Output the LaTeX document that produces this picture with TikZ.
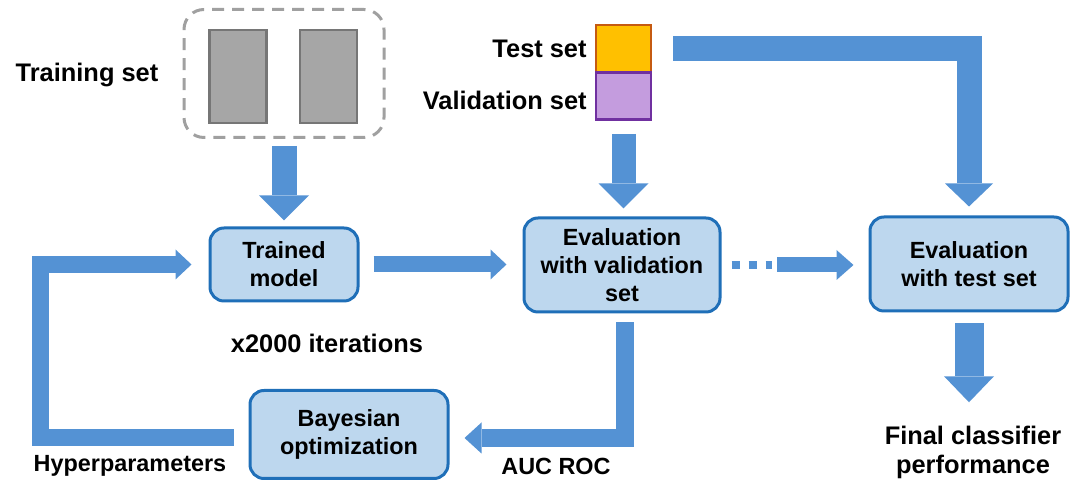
\documentclass[tikz,border=0pt]{standalone}
\usepackage{fontspec}
\setmainfont{Liberation Sans}
\usetikzlibrary{arrows.meta}

\definecolor{boxfill}{RGB}{189,215,238}
\definecolor{boxline}{RGB}{31,111,184}
\definecolor{arrowblue}{RGB}{84,146,212}
\definecolor{setgray}{RGB}{166,166,166}
\definecolor{setline}{RGB}{118,118,118}
\definecolor{dashgray}{RGB}{160,160,160}
\definecolor{testfill}{RGB}{255,192,0}
\definecolor{testline}{RGB}{197,90,17}
\definecolor{valfill}{RGB}{196,156,222}
\definecolor{valline}{RGB}{112,48,160}

\begin{document}
\begin{tikzpicture}[x=0.5pt, y=-0.5pt,
    box/.style={draw=boxline, fill=boxfill, line width=1.5pt, rounded corners=7pt, align=center, inner sep=0pt, font=\bfseries\fontsize{11.7}{14}\selectfont},
    lbl/.style={align=center, inner sep=0pt, font=\bfseries\fontsize{12.7}{14.5}\selectfont},
    note/.style={align=center, inner sep=0pt, font=\bfseries\fontsize{11.7}{14}\selectfont},
    datablock/.style={draw=setline, fill=setgray, line width=1.4pt, minimum width=28.5pt, minimum height=46.5pt, inner sep=0pt},
    setsq/.style={line width=1.3pt, minimum width=27.5pt, minimum height=23.5pt, inner sep=0pt},
    barrow/.style n args={3}{draw=arrowblue, line width=#1, line join=miter, -{Triangle[width=#2, length=#3, line width=0pt]}},
    dotline/.style={draw=arrowblue, line width=4pt, dash pattern=on 4pt off 4.5pt}
]
\useasboundingbox (0,0) rectangle (1078,485);

% training data
\node[draw=dashgray, line width=1.5pt, dash pattern=on 6pt off 4pt, rounded corners=10pt, minimum width=100pt, minimum height=64pt] (pool) at (284,73.5) {};
\node[datablock] (blockA) at (238,76.5) {};
\node[datablock] (blockB) at (328.5,76.5) {};
\node[lbl] (trainlbl) at (87,75) {Training set};

% held-out sets
\node[setsq, draw=testline, fill=testfill] (testsq) at (623.5,48.5) {};
\node[setsq, draw=valline, fill=valfill] (valsq) at (623.5,96) {};
\node[lbl, anchor=east] (testlbl) at (587,49) {Test set};
\node[lbl, anchor=east] (vallbl) at (587,100) {Validation set};

% steps
\node[box, minimum width=74pt, minimum height=36.5pt] (trained) at (284,264.5) {Trained\\model};
\node[box, minimum width=98pt, minimum height=47pt] (evalval) at (622,265) {Evaluation\\with validation\\set};
\node[box, minimum width=99pt, minimum height=47pt] (evaltest) at (969,264) {Evaluation\\with test set};
\node[box, minimum width=99pt, minimum height=44pt] (bayes) at (349,434.5) {Bayesian\\optimization};

\node[lbl] (iter) at (327,343) {x2000 iterations};
\node[note] (hyper) at (130,466) {Hyperparameters};
\node[note] (auc) at (556,466) {AUC ROC};
\node[lbl] (final) at (973,452) {Final classifier\\performance};

\coordinate (dotend) at (772,265);
\coordinate (loopcorner) at (40.5,438);

% arrows
\draw[barrow={12.5pt}{25pt}{12.5pt}, shorten <=3.5pt, shorten >=3pt] (pool.south) -- (trained.north);
\draw[barrow={12pt}{25pt}{12.5pt}, shorten <=6.5pt, shorten >=4pt] (valsq.south) -- (valsq.south |- evalval.north);
\draw[barrow={12.5pt}{24pt}{11.5pt}, shorten <=10.5pt, shorten >=4.5pt] (testsq.east) -| (evaltest.north);
\draw[barrow={8pt}{15pt}{8pt}, shorten <=7pt, shorten >=8pt] (trained.east) -- (trained.east -| evalval.west);
\draw[dotline] ([xshift=5pt]evalval.east) -- (dotend);
\draw[barrow={7.5pt}{15pt}{8.5pt}, shorten <=2.5pt, shorten >=7.5pt] (dotend) -- (dotend -| evaltest.west);
\draw[barrow={9pt}{15.5pt}{8.5pt}, shorten <=4.5pt, shorten >=7.5pt] ([xshift=1.5pt]evalval.south) |- ([yshift=-1.75pt]bayes.east);
\draw[barrow={8.5pt}{15pt}{8pt}, shorten <=7.5pt, shorten >=8.5pt] ([yshift=-1.75pt]bayes.west) -- (loopcorner) |- (trained.west);
\draw[barrow={14.5pt}{25pt}{13pt}, shorten <=5.5pt, shorten >=11.5pt] (evaltest.south) -- (evaltest.south |- final.north);
\end{tikzpicture}
\end{document}
